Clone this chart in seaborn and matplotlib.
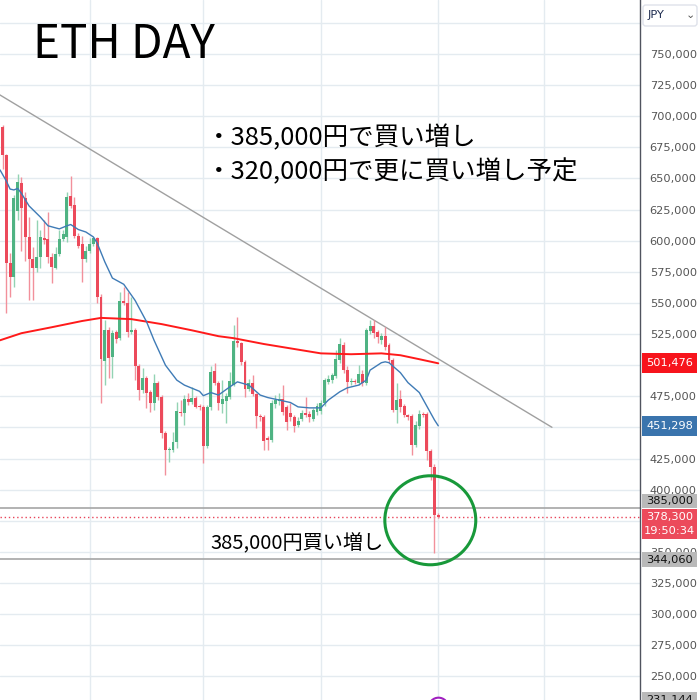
import seaborn as sns
import matplotlib.pyplot as plt
import matplotlib.dates as mdates
import matplotlib.patches as mpatches
import matplotlib.transforms as mtransforms
from matplotlib.ticker import FuncFormatter, MultipleLocator
import pandas as pd
import numpy as np

# Datos diarios ETH/JPY (miles de yenes)
start_day = "2025-10-09"
open_k = [691, 669, 582, 571, 624, 646, 634, 603, 585, 578, 587, 602, 601, 587, 578, 589, 601, 603, 636, 629,
          604, 597, 585, 592, 597, 602, 555, 503.5, 528.4, 506.7, 526.8, 522, 551.7, 550, 526.8, 528.4, 499.5, 480.2, 489.8, 478.6,
          469.8, 485.8, 474.6, 445.7, 432, 432, 438.4, 462.5, 461.7, 473, 470.6, 473.8, 467.3, 466.5, 435.2, 466.5, 495.5, 485.8, 469, 471.4,
          474.6, 484.2, 519.5, 517.9, 502.7, 481, 485.8, 477, 459.3, 458.5, 441.6, 440, 469, 471.4, 473, 466.5, 461.7, 458.5, 452.1, 456.9,
          461.7, 460.9, 456.9, 462.5, 463.3, 469.8, 486.6, 488.2, 491.4, 504.3, 516.3, 496.3, 486.6, 487.4, 485.8, 493, 485.8, 527.6, 531.6, 526.8,
          520.3, 523.6, 516.3, 504.3, 464.1, 473, 467.3, 460.1, 459.3, 436, 451.3, 460.9, 460.9, 431.2, 418.4, 379.8]
high_k = [693, 670, 590, 637, 654, 651, 639, 619, 595, 617, 609, 617, 623, 590, 595, 609, 609, 639, 652, 635,
          606, 604, 596, 602, 603, 603, 557, 536, 531, 528, 528, 559, 563, 559, 555, 530, 501, 498, 491, 480,
          493, 487, 476, 447, 434, 446.5, 470.6, 472, 476, 478, 482.6, 475, 469, 468, 468, 499.5, 502, 487, 488, 478,
          494.6, 532.4, 538.8, 519, 504, 489, 492.2, 478, 461, 460, 443, 472, 476, 478, 484.2, 468, 469.8, 460, 458, 464,
          474.6, 463, 466, 470, 472, 490, 492, 494, 512, 522, 519, 499, 490, 489, 500, 496, 530, 536.4, 536.4, 528,
          526, 530.8, 518, 506, 485.8, 480, 469, 461, 461, 455, 464, 462, 462, 433, 421, 381]
low_k = [658, 542, 555, 563, 617, 592, 584, 552, 552, 575, 578, 597, 582, 566, 577, 588, 600, 599, 626, 602,
         594, 567, 583, 590, 596, 550, 470, 484, 490, 490, 518, 520, 548, 523, 525, 488, 472, 478, 466, 462,
         464, 472, 441.6, 412, 422, 430, 433.6, 459, 452, 468, 469, 465.7, 464, 421.6, 433.6, 464, 484, 464, 461.7, 453.7,
         473, 483, 515, 500, 474.6, 479, 475, 449.7, 455, 432, 432, 438, 466, 468, 460, 448, 455, 446.5, 450, 455,
         458, 454, 455, 460, 461, 467, 485, 486, 490, 502, 494, 478, 484, 485, 484, 483, 484, 525, 522, 518,
         517, 512, 502, 462, 453.7, 462, 458, 456, 428, 434, 449, 458, 424, 408, 349.3, 377]
close_k = [669, 582, 571, 634, 647, 626, 603, 585, 578, 587, 603, 600.5, 587, 579, 589, 601, 605, 635, 628, 604,
           596, 585, 592, 597, 602, 555, 505, 528.4, 506, 526, 521, 551.7, 550.1, 526.8, 528.4, 499.5, 480.2, 489.8, 477.8, 469.8,
           485.8, 474.6, 445.7, 432, 432.8, 438.4, 463.3, 461.7, 473, 470.6, 473.8, 466.5, 466.5, 435.2, 466.5, 494.6, 485.8, 469.8, 473, 475.4,
           487.4, 519.5, 517.9, 502.7, 481, 485.8, 477, 459.3, 458.5, 439.2, 440, 469.8, 472.2, 473, 462.5, 454.5, 458.5, 451.3, 455.3, 461.7,
           460.1, 458.5, 464.1, 467.3, 469.8, 488.2, 489, 492.2, 505.1, 517.1, 496.3, 486.6, 487.4, 486.6, 493, 485.8, 528.4, 531.6, 526, 522.7,
           523.6, 514.7, 504.3, 464.1, 472.2, 466.5, 460.1, 458.5, 436, 452.1, 460.9, 460.1, 431.2, 418.4, 379.8, 378.3]

# Medias moviles (dia desde el inicio, valor en miles)
ma_short_day = [-0.66, 1, 2, 3, 4, 5, 7, 10, 12, 15, 17, 18, 20, 22, 24, 25, 27, 29, 32, 35, 38, 40, 43, 46, 48, 52, 53, 55, 57,
                60, 62, 65, 68, 70, 73, 76, 78, 81, 84, 86, 89, 91, 94, 96, 97, 100, 101, 102, 105, 107, 110, 112, 114, 115]
ma_short_k = [656.9, 648, 641.5, 640.8, 642, 638, 628, 619, 612, 609.5, 612, 613, 609, 607, 603, 598, 583, 570, 565, 552, 535,
              520, 500, 488, 484, 479, 475.5, 478, 476, 482.6, 486.6, 484, 476, 474, 472, 470, 466.5, 465.7, 465.7, 472, 478.6,
              481.8, 484, 488, 496, 502, 502.7, 502, 494, 486, 478, 467, 456, 451.3]
ma_long_day = [-0.66, 5, 13, 21, 26, 34, 42, 50, 57, 61, 69, 77, 84, 92, 100, 105, 110, 115]
ma_long_k = [520, 525.7, 530.5, 535.5, 538, 537, 533, 528, 523.3, 521.7, 517, 513, 509.5, 508.8, 509.5, 508, 504.8, 501.5]

# Linea de tendencia y niveles horizontales
trend_dates = ["2025-10-08", "2026-03-03"]
trend_k = [717.7, 450.1]
level_buy = 385000
level_low = 344060
last_price = 378300
ma_long_last = 501476
ma_short_last = 451298
bottom_tag = 231144
countdown = "19:50:34"

texto_titulo = "ETH DAY"
texto_notas = ["・385,000円で買い増し", "・320,000円で更に買い増し予定"]
texto_compra = "385,000円買い増し"

# ---------------------------------------------------------------
dates = pd.date_range(start_day, periods=len(close_k), freq="D")
df = pd.DataFrame({"fecha": dates,
                   "open": np.array(open_k) * 1000, "high": np.array(high_k) * 1000,
                   "low": np.array(low_k) * 1000, "close": np.array(close_k) * 1000})
df["sube"] = df["close"] >= df["open"]

ma_short = pd.DataFrame({"fecha": pd.Timestamp(start_day) + pd.to_timedelta(ma_short_day, unit="D"),
                         "valor": np.array(ma_short_k) * 1000})
ma_long = pd.DataFrame({"fecha": pd.Timestamp(start_day) + pd.to_timedelta(ma_long_day, unit="D"),
                        "valor": np.array(ma_long_k) * 1000})

sns.set_theme(style="white")
plt.rcParams['font.family'] = ['DejaVu Sans', 'Noto Sans CJK JP']

W, H = 700, 700
fig = plt.figure(figsize=(7, 7), dpi=100)
fig.patch.set_facecolor("white")
ax = fig.add_axes([0, 0, 640 / W, 1])

GREEN, RED = "#4fb383", "#ec4a5b"
GREEN_W, RED_W = "#93d3b3", "#f2909b"

# Mechas
for sube, col in [(True, GREEN_W), (False, RED_W)]:
    d = df[df["sube"] == sube]
    ax.vlines(d["fecha"], d["low"], d["high"], color=col, linewidth=1, zorder=3)
# Cuerpos
body = (df["close"] - df["open"]).abs().clip(lower=900)
bottom = df[["open", "close"]].min(axis=1)
ax.bar(df["fecha"], body, bottom=bottom, width=0.78,
       color=np.where(df["sube"], GREEN, RED), linewidth=0, zorder=4)

# Medias moviles
sns.lineplot(data=ma_long, x="fecha", y="valor", ax=ax, color="#ff1a1a", linewidth=1.4, zorder=5)
sns.lineplot(data=ma_short, x="fecha", y="valor", ax=ax, color="#3f7bb6", linewidth=1.0, zorder=5)

# Tendencia
ax.plot(pd.to_datetime(trend_dates), np.array(trend_k) * 1000, color="#a0a0a0", linewidth=1, zorder=2)

# Niveles
ax.axhline(level_buy, color="#a6a6a6", linewidth=1.2, zorder=2)
ax.axhline(level_low, color="#a6a6a6", linewidth=1.2, zorder=2)
ax.axhline(last_price, color="#e8455a", linewidth=1, linestyle=(0, (1, 2)), zorder=2)

# Circulo verde
ax.add_patch(mpatches.Ellipse((pd.Timestamp(start_day) + pd.Timedelta(days=112.9), 375400),
                              width=24, height=71500, fill=False, edgecolor="#18993a", linewidth=2.2, zorder=6))

# Ejes
ocultas = {775000, 500000, 450000, 375000}  # tapadas por las etiquetas de precio / caja JPY
x0 = pd.Timestamp(start_day) - pd.Timedelta(days=0.66)
ax.set_xlim(x0, x0 + pd.Timedelta(days=168.9))
ax.set_ylim(231000, 793400)
ax.xaxis.set_major_locator(mdates.MonthLocator())
ax.yaxis.set_major_locator(MultipleLocator(25000))
ax.yaxis.set_major_formatter(FuncFormatter(lambda v, p: "" if int(round(v)) in ocultas else f"{int(round(v)):,}"))
ax.yaxis.tick_right()
ax.tick_params(axis="y", length=0, pad=7, labelsize=8.2, labelcolor="#555555")
ax.tick_params(axis="x", length=0, labelbottom=False)
ax.grid(True, color="#e4ebf0", linewidth=1)
ax.set_axisbelow(True)
ax.set_xlabel("")
ax.set_ylabel("")
for s in ["top", "left", "bottom"]:
    ax.spines[s].set_visible(False)
ax.spines["right"].set_color("#50535e")
ax.spines["right"].set_linewidth(1)

# Marcador morado inferior
ax.scatter([dates[-1]], [225000], s=200, facecolor="white", edgecolor="#a020c0", linewidth=1.5,
           clip_on=False, zorder=7)

# Etiquetas de precio en el eje
PX = 803.0
trans = mtransforms.blended_transform_factory(ax.transAxes, ax.transData)


def etiqueta(precio, lineas, cara, color_txt, arriba, abajo, primera=None):
    ax.add_patch(mpatches.Rectangle((1 + 2 / 640, precio - abajo * PX), 55 / 640, (arriba + abajo) * PX,
                                    transform=trans, facecolor=cara, edgecolor="none",
                                    clip_on=False, zorder=8))
    if primera is None:
        primera = precio + (arriba - abajo) / 2 * PX
    for i, t in enumerate(lineas):
        ax.text(1 + 29.5 / 640, primera - i * 14 * PX, t, transform=trans, ha="center", va="center",
                fontsize=8.2, color=color_txt, clip_on=False, zorder=9)


etiqueta(ma_long_last, [f"{ma_long_last:,}"], "#f7141c", "white", 10, 10)
etiqueta(ma_short_last, [f"{ma_short_last:,}"], "#3a74ad", "white", 10, 10)
etiqueta(level_buy, [f"{level_buy:,}"], "#b9b9b9", "#111111", 14.5, 0)
etiqueta(last_price, [f"{last_price:,}", countdown], "#ec4a5b", "white", 8, 22, primera=last_price)
etiqueta(level_low, [f"{level_low:,}"], "#b9b9b9", "#111111", 7, 7.5)
etiqueta(bottom_tag, [f"{bottom_tag:,}"], "#b9b9b9", "#111111", 8, 8)

# Caja JPY
fig.patches.append(mpatches.FancyBboxPatch((643 / W, 1 - 26 / H), 54 / W, 21 / H,
                                           boxstyle="round,pad=0,rounding_size=0.004",
                                           transform=fig.transFigure, facecolor="white",
                                           edgecolor="#dfe2ea", linewidth=1))
fig.text(648 / W, 1 - 15.5 / H, "JPY", fontsize=8.2, color="#1d2b4f", va="center", ha="left")
fig.text(690 / W, 1 - 15.5 / H, "⌄", fontsize=8, color="#555555", va="center", ha="center")

# Textos
jp = ["Noto Sans CJK JP", "DejaVu Sans"]
fig.text(33 / W, 1 - 58 / H, texto_titulo, fontsize=33, family=jp, color="black", va="baseline")
fig.text(206 / W, 1 - 138 / H, texto_notas[0], fontsize=18.4, family=jp, color="black", va="center")
fig.text(206 / W, 1 - 172 / H, texto_notas[1], fontsize=18.4, family=jp, color="black", va="center")
fig.text(210 / W, 1 - 544 / H, texto_compra, fontsize=14.5, family=jp, color="black", va="center")

plt.savefig("out.png", dpi=100)
